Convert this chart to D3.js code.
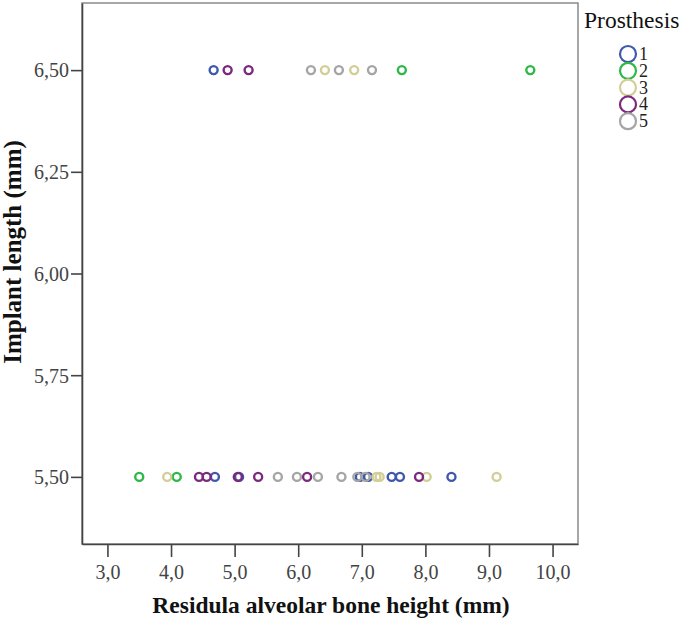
<!DOCTYPE html>
<html><head><meta charset="utf-8">
<script src="https://cdn.jsdelivr.net/npm/d3@7"></script>
<style>body{margin:0;background:#fff}svg{display:block}</style>
</head><body>
<svg id="c" width="685" height="619"></svg>
<script>
// ---- data ----
const prosthesis = ["1","2","3","4","5"];
const colors = ["#3E58AC","#2EB848","#D3CE97","#7C287D","#A5A5A5"];
// residual alveolar bone height (x) and implant length (y), per prosthesis
const bone1 = [4.67, 4.69, 5.07, 6.97, 7.10, 7.47, 7.60, 8.41];
const impl1 = [6.5, 5.5, 5.5, 5.5, 5.5, 5.5, 5.5, 5.5];
const bone2 = [7.63, 9.65, 3.50, 4.09];
const impl2 = [6.5, 6.5, 5.5, 5.5];
const bone3 = [6.42, 6.88, 3.94, 7.23, 7.28, 8.02, 9.12];
const impl3 = [6.5, 6.5, 5.5, 5.5, 5.5, 5.5, 5.5];
const bone4 = [4.89, 5.22, 4.44, 4.56, 5.05, 5.37, 6.14, 7.90];
const impl4 = [6.5, 6.5, 5.5, 5.5, 5.5, 5.5, 5.5, 5.5];
const bone5 = [6.20, 6.64, 7.16, 5.68, 5.98, 6.31, 6.68, 6.93, 7.06];
const impl5 = [6.5, 6.5, 6.5, 5.5, 5.5, 5.5, 5.5, 5.5, 5.5];
const xTicks = [3,4,5,6,7,8,9,10];
const yTicks = [5.5,5.75,6.0,6.25,6.5];
const xTitle = "Residula alveolar bone height (mm)";
const yTitle = "Implant length (mm)";
const legendTitle = "Prosthesis";

const series = [[bone1,impl1],[bone2,impl2],[bone3,impl3],[bone4,impl4],[bone5,impl5]];

// ---- layout ----
const L = 82, R = 578, T = 3, B = 544;
const svg = d3.select("#c");
const serif = "'Liberation Serif','Times New Roman',serif";
const x = d3.scaleLinear().domain([2.6, 10.4]).range([L, R]);
const y = d3.scaleLinear().domain([5.335, 6.665]).range([B, T]);

// frame
svg.append("rect").attr("x",L).attr("y",T).attr("width",R-L).attr("height",B-T)
  .attr("fill","none").attr("stroke","#8a8a8a").attr("stroke-width",1.5);

// axes
const fmtX = d => d3.format(".1f")(d).replace(".", ",");
const fmtY = d => d3.format(".2f")(d).replace(".", ",");
const gx = svg.append("g").attr("transform",`translate(0,${B})`)
  .call(d3.axisBottom(x).tickValues(xTicks).tickFormat(fmtX).tickSize(13).tickSizeOuter(0));
const gy = svg.append("g").attr("transform",`translate(${L},0)`)
  .call(d3.axisLeft(y).tickValues(yTicks).tickFormat(fmtY).tickSize(11).tickSizeOuter(0));
[gx,gy].forEach(g=>{
  g.select(".domain").attr("stroke","#444").attr("stroke-width",1.6);
  g.selectAll(".tick line").attr("stroke","#444").attr("stroke-width",1.6);
  g.selectAll(".tick text").attr("fill","#444").style("font-family",serif).style("font-size","20px");
});
gx.selectAll(".tick text").attr("dy","0.71em").attr("y",21);
gy.selectAll(".tick text").attr("x",-13).attr("dy","0.34em");

// titles
svg.append("text").attr("x",331).attr("y",613).attr("text-anchor","middle")
  .style("font-family",serif).style("font-size","23.5px").style("font-weight","bold").attr("fill","#111")
  .text(xTitle);
svg.append("text").attr("transform","translate(21,252) rotate(-90)").attr("text-anchor","middle")
  .style("font-family",serif).style("font-size","25px").style("font-weight","bold").attr("fill","#111")
  .text(yTitle);

// points
series.forEach((s,i)=>{
  const pts = s[0].map((v,j)=>[v, s[1][j]]);
  svg.append("g").selectAll("circle").data(pts).join("circle")
    .attr("cx",d=>x(d[0])).attr("cy",d=>y(d[1])).attr("r",4)
    .attr("fill","none").attr("stroke",colors[i]).attr("stroke-width",2.4);
});

// legend
svg.append("text").attr("x",584).attr("y",28).style("font-family",serif).style("font-size","23.5px").attr("fill","#111")
  .text(legendTitle);
const lg = svg.append("g");
prosthesis.forEach((p,i)=>{
  const cy = 54 + i*16.8;
  lg.append("circle").attr("cx",628).attr("cy",cy).attr("r",8)
    .attr("fill","none").attr("stroke",colors[i]).attr("stroke-width",2.2);
  lg.append("text").attr("x",639).attr("y",cy+6).style("font-family",serif).style("font-size","18px").attr("fill","#222").text(p);
});
</script>
</body></html>
